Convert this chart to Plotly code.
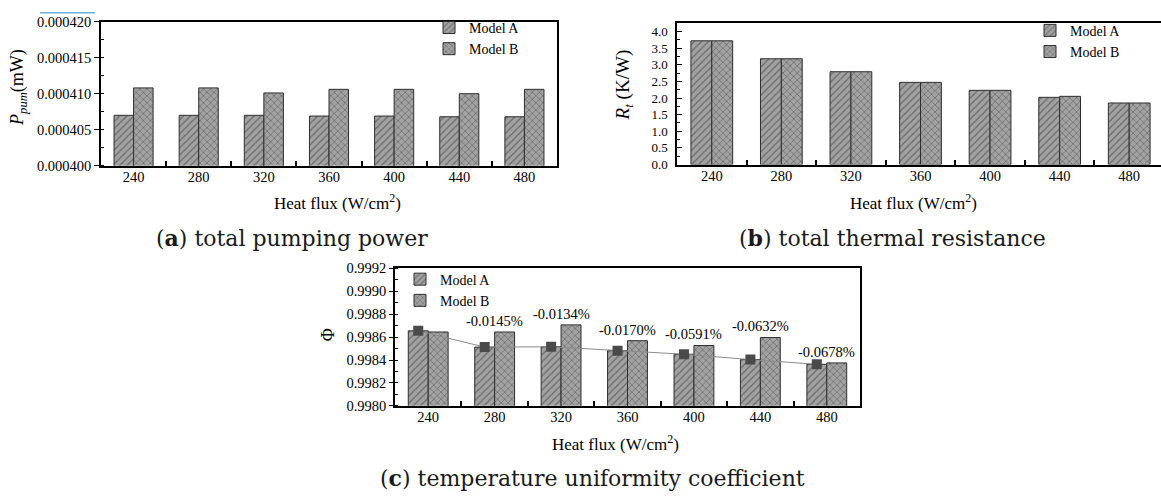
import plotly.graph_objects as go

# ---------------- data ----------------
heat_flux = ["240", "280", "320", "360", "400", "440", "480"]

pump_a = [0.0004070, 0.0004070, 0.0004070, 0.0004069, 0.0004069, 0.0004068, 0.0004068]
pump_b = [0.0004108, 0.0004108, 0.0004101, 0.0004106, 0.0004106, 0.0004100, 0.0004106]

rt_a = [3.72, 3.18, 2.79, 2.47, 2.23, 2.02, 1.85]
rt_b = [3.72, 3.18, 2.79, 2.47, 2.23, 2.05, 1.85]

phi_a = [0.998655, 0.998513, 0.998516, 0.998482, 0.998451, 0.998404, 0.998363]
phi_b = [0.998645, 0.998645, 0.998707, 0.998569, 0.998527, 0.998597, 0.998375]
phi_change = ["", "-0.0145%", "-0.0134%", "-0.0170%", "-0.0591%", "-0.0632%", "-0.0678%"]

series_names = ["Model A", "Model B"]

# ---------------- style ----------------
W, H = 1161, 501
SERIF = "Liberation Serif, Times New Roman, serif"
CAP = "DejaVu Serif, serif"
BG = "#a2a2a2"
FG = "#383838"
EDGE = "#2e2e2e"
x_idx = list(range(len(heat_flux)))
bounds = [i + 0.5 for i in x_idx[:-1]]


def px_x(p):
    return p / W


def px_y(p):
    return 1 - p / H


fig = go.Figure()


def add_pair(ya, yb, xa, ya_name, legend):
    for vals, shape, off, name in ((ya, "/", -0.3, series_names[0]), (yb, "x", 0.0, series_names[1])):
        fig.add_trace(go.Bar(
            x=x_idx, y=vals, offset=off, width=0.3, name=name,
            xaxis=xa, yaxis=ya_name, legend=legend,
            marker=dict(color=BG, line=dict(color=EDGE, width=1),
                        pattern=dict(shape=shape, fgcolor=FG, bgcolor=BG,
                                     size=5, solidity=0.28)),
        ))


add_pair(pump_a, pump_b, "x", "y", "legend")
add_pair(rt_a, rt_b, "x2", "y2", "legend2")
add_pair(phi_a, phi_b, "x3", "y3", "legend3")

fig.add_trace(go.Scatter(
    x=[i - 0.15 for i in x_idx], y=phi_a, mode="lines+markers",
    xaxis="x3", yaxis="y3", showlegend=False,
    line=dict(color="#8c8c8c", width=1),
    marker=dict(symbol="square", size=10, color="#4a4a4a"),
))

for i, txt in enumerate(phi_change):
    if txt:
        fig.add_annotation(x=x_idx[i], y=max(phi_a[i], phi_b[i]), xref="x3", yref="y3",
                           text=txt, showarrow=False, yanchor="bottom", yshift=1,
                           font=dict(family=SERIF, size=14.5, color="black"))

tickfont = dict(family=SERIF, size=14.5, color="black")
common_x = dict(tickmode="array", tickvals=x_idx, ticktext=heat_flux, ticks="",
                showline=True, linecolor="black", linewidth=1.5, showgrid=False,
                zeroline=False, tickfont=tickfont, ticklabelstandoff=-3,
                minor=dict(tickmode="array", tickvals=bounds, ticks="inside",
                           ticklen=5, tickwidth=1.5, tickcolor="black", showgrid=False))
common_y = dict(showline=True, linecolor="black", linewidth=1.5, showgrid=False,
                zeroline=False, tickcolor="black", tickwidth=1.2)

fig.update_layout(
    width=W, height=H, margin=dict(l=0, r=0, t=0, b=0),
    paper_bgcolor="white", plot_bgcolor="white", barmode="overlay",
    xaxis=dict(domain=[px_x(101), px_x(557)], anchor="y", range=[-0.5, 6.5],
               mirror=True, **common_x),
    yaxis=dict(domain=[px_y(163), px_y(14)], anchor="x", range=[0.0004, 0.00042],
               tick0=0.0004, dtick=0.000005, tickformat=".6f", ticks="outside",
               ticklen=5, mirror=True, tickfont=tickfont,
               minor=dict(dtick=0.0000025, ticks="inside", ticklen=3,
                          tickcolor="black", showgrid=False),
               **common_y),
    xaxis2=dict(domain=[px_x(677), 1], anchor="y2", range=[-0.5, 6.457],
                mirror=True, **common_x),
    yaxis2=dict(domain=[px_y(161.7), px_y(16)], anchor="x2", range=[0, 4.24],
                tick0=0, dtick=0.5, tickformat=".1f", ticks="inside", ticklen=5,
                mirror=False, ticklabelstandoff=5,
                tickfont=dict(family=SERIF, size=13, color="black"),
                minor=dict(dtick=0.25, ticks="inside", ticklen=3,
                           tickcolor="black", showgrid=False),
                **common_y),
    xaxis3=dict(domain=[px_x(395), px_x(860)], anchor="y3", range=[-0.5, 6.5],
                mirror=True, **common_x),
    yaxis3=dict(domain=[px_y(411), px_y(269)], anchor="x3", range=[0.998, 0.9992],
                tick0=0.998, dtick=0.0002, tickformat=".4f", ticks="outside",
                ticklen=4, mirror=True, tickfont=tickfont,
                minor=dict(dtick=0.0001, ticks="inside", ticklen=3,
                           tickcolor="black", showgrid=False),
                **common_y),
    legend=dict(x=px_x(429), y=px_y(4), xanchor="left", yanchor="top",
                bgcolor="rgba(0,0,0,0)", font=dict(family=SERIF, size=14, color="black"),
                tracegroupgap=0),
    legend2=dict(x=px_x(1030), y=px_y(7), xanchor="left", yanchor="top",
                 bgcolor="rgba(0,0,0,0)", font=dict(family=SERIF, size=14, color="black"),
                 tracegroupgap=0),
    legend3=dict(x=px_x(400), y=px_y(264), xanchor="left", yanchor="top",
                 bgcolor="rgba(0,0,0,0)", font=dict(family=SERIF, size=14, color="black"),
                 tracegroupgap=0),
)

# axis titles
titles = [
    ("<i>P</i><sub><i>pum</i></sub>(mW)", 18.5, 82, -90, 18),
    ("<i>R</i><sub><i>t</i></sub> (K/W)", 624, 80, -90, 19),
    ("Φ", 328, 338, -90, 18),
    ("Heat flux (W/cm<sup>2</sup>)", 337, 200, 0, 17),
    ("Heat flux (W/cm<sup>2</sup>)", 913, 200, 0, 17),
    ("Heat flux (W/cm<sup>2</sup>)", 615, 449, 0, 17),
]
for txt, x, y, ang, sz in titles:
    fig.add_annotation(x=px_x(x), y=px_y(y), xref="paper", yref="paper", text=txt,
                       showarrow=False, textangle=ang, xanchor="center", yanchor="middle",
                       font=dict(family=SERIF, size=sz, color="black"))

captions = [
    ("(<b>a</b>) total pumping power", 292, 238),
    ("(<b>b</b>) total thermal resistance", 892, 238),
    ("(<b>c</b>) temperature uniformity coefficient", 592, 486),
]
for txt, x, y in captions:
    fig.add_annotation(x=px_x(x), y=px_y(y), xref="paper", yref="paper", text=txt,
                       showarrow=False, xanchor="center", yanchor="middle",
                       font=dict(family=CAP, size=22, color="#1a1a1a"))

fig.add_shape(type="line", xref="paper", yref="paper", x0=px_x(40), x1=px_x(95),
              y0=px_y(5), y1=px_y(5), line=dict(color="#6aaee0", width=1.5))

fig.write_html("out.html")
